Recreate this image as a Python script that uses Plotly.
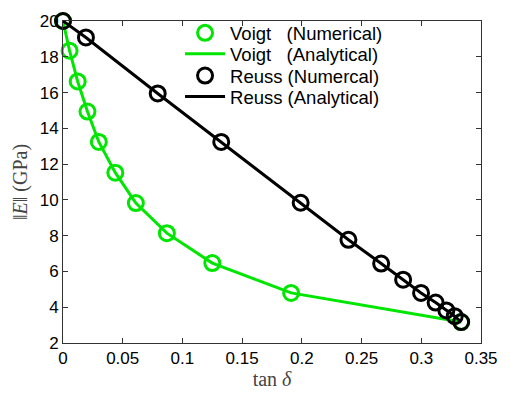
import plotly.graph_objects as go

# Voigt data (numerical = analytical points)
voigt_tan = [0, 0.0055, 0.0123, 0.0205, 0.030, 0.0438, 0.061, 0.087, 0.125, 0.191, 0.3334]
voigt_E = [20, 18.34, 16.62, 14.94, 13.24, 11.52, 9.82, 8.14, 6.47, 4.8, 3.17]

# Reuss data
reuss_tan = [0, 0.0192, 0.0793, 0.1325, 0.199, 0.239, 0.2664, 0.2848, 0.2998, 0.312, 0.321, 0.328, 0.3334]
reuss_E = [20, 19.08, 15.95, 13.24, 9.84, 7.77, 6.44, 5.54, 4.8, 4.26, 3.82, 3.5, 3.17]

x_ticks = [0, 0.05, 0.1, 0.15, 0.2, 0.25, 0.3, 0.35]
x_labels = ["0", "0.05", "0.1", "0.15", "0.2", "0.25", "0.3", "0.35"]
y_ticks = [2, 4, 6, 8, 10, 12, 14, 16, 18, 20]
y_labels = [str(v) for v in y_ticks]

GREEN = "#00e600"
BLACK = "#000000"
NB = "\u00a0"

fig = go.Figure()
fig.add_trace(go.Scatter(x=voigt_tan, y=voigt_E, mode="markers",
                         name="Voigt" + NB * 3 + "(Numerical)", legend="legend",
                         marker=dict(symbol="circle-open", size=15, color=GREEN, line=dict(width=3, color=GREEN)),
                         cliponaxis=False))
fig.add_trace(go.Scatter(x=voigt_tan, y=voigt_E, mode="lines",
                         name="Voigt" + NB * 3 + "(Analytical)", legend="legend2",
                         line=dict(color=GREEN, width=3), cliponaxis=False))
fig.add_trace(go.Scatter(x=reuss_tan, y=reuss_E, mode="markers",
                         name="Reuss (Numercal)", legend="legend3",
                         marker=dict(symbol="circle-open", size=15, color=BLACK, line=dict(width=3, color=BLACK)),
                         cliponaxis=False))
fig.add_trace(go.Scatter(x=reuss_tan, y=reuss_E, mode="lines",
                         name="Reuss (Analytical)", legend="legend4",
                         line=dict(color=BLACK, width=3), cliponaxis=False))

axis_common = dict(showgrid=False, zeroline=False, showline=True, linecolor="#333333", linewidth=1,
                   mirror="ticks", ticks="inside", ticklen=5, tickcolor="#333333",
                   tickfont=dict(family="Liberation Sans, Arial, sans-serif", size=17, color="#000000"))

PLOT_TOP, PLOT_BOTTOM = 12, 351


def leg(py):
    return dict(x=0.28, y=(PLOT_BOTTOM - py) / (PLOT_BOTTOM - PLOT_TOP), xanchor="left", yanchor="middle",
                bgcolor="rgba(0,0,0,0)", borderwidth=0,
                font=dict(family="Liberation Sans, Arial, sans-serif", size=18.5, color="#000000"),
                itemwidth=40)


fig.update_layout(
    width=510, height=394,
    margin=dict(l=63, r=20, t=PLOT_TOP, b=394 - PLOT_BOTTOM),
    paper_bgcolor="white", plot_bgcolor="white",
    showlegend=True,
    legend=leg(25), legend2=leg(47), legend3=leg(70), legend4=leg(92),
    xaxis=dict(range=[0, 0.35], tickvals=x_ticks, ticktext=x_labels,
               title=dict(text="tan <i>δ</i>", standoff=0,
                          font=dict(family="Liberation Serif, DejaVu Serif, serif", size=20, color="#444444")),
               **axis_common),
    yaxis=dict(range=[2, 20], tickvals=y_ticks, ticktext=y_labels,
               title=dict(text="\u2016<i>E</i>\u2016 (GPa)", standoff=6,
                          font=dict(family="Liberation Serif, DejaVu Serif, serif", size=20, color="#444444")),
               **axis_common),
)

fig.write_html("out.html")
